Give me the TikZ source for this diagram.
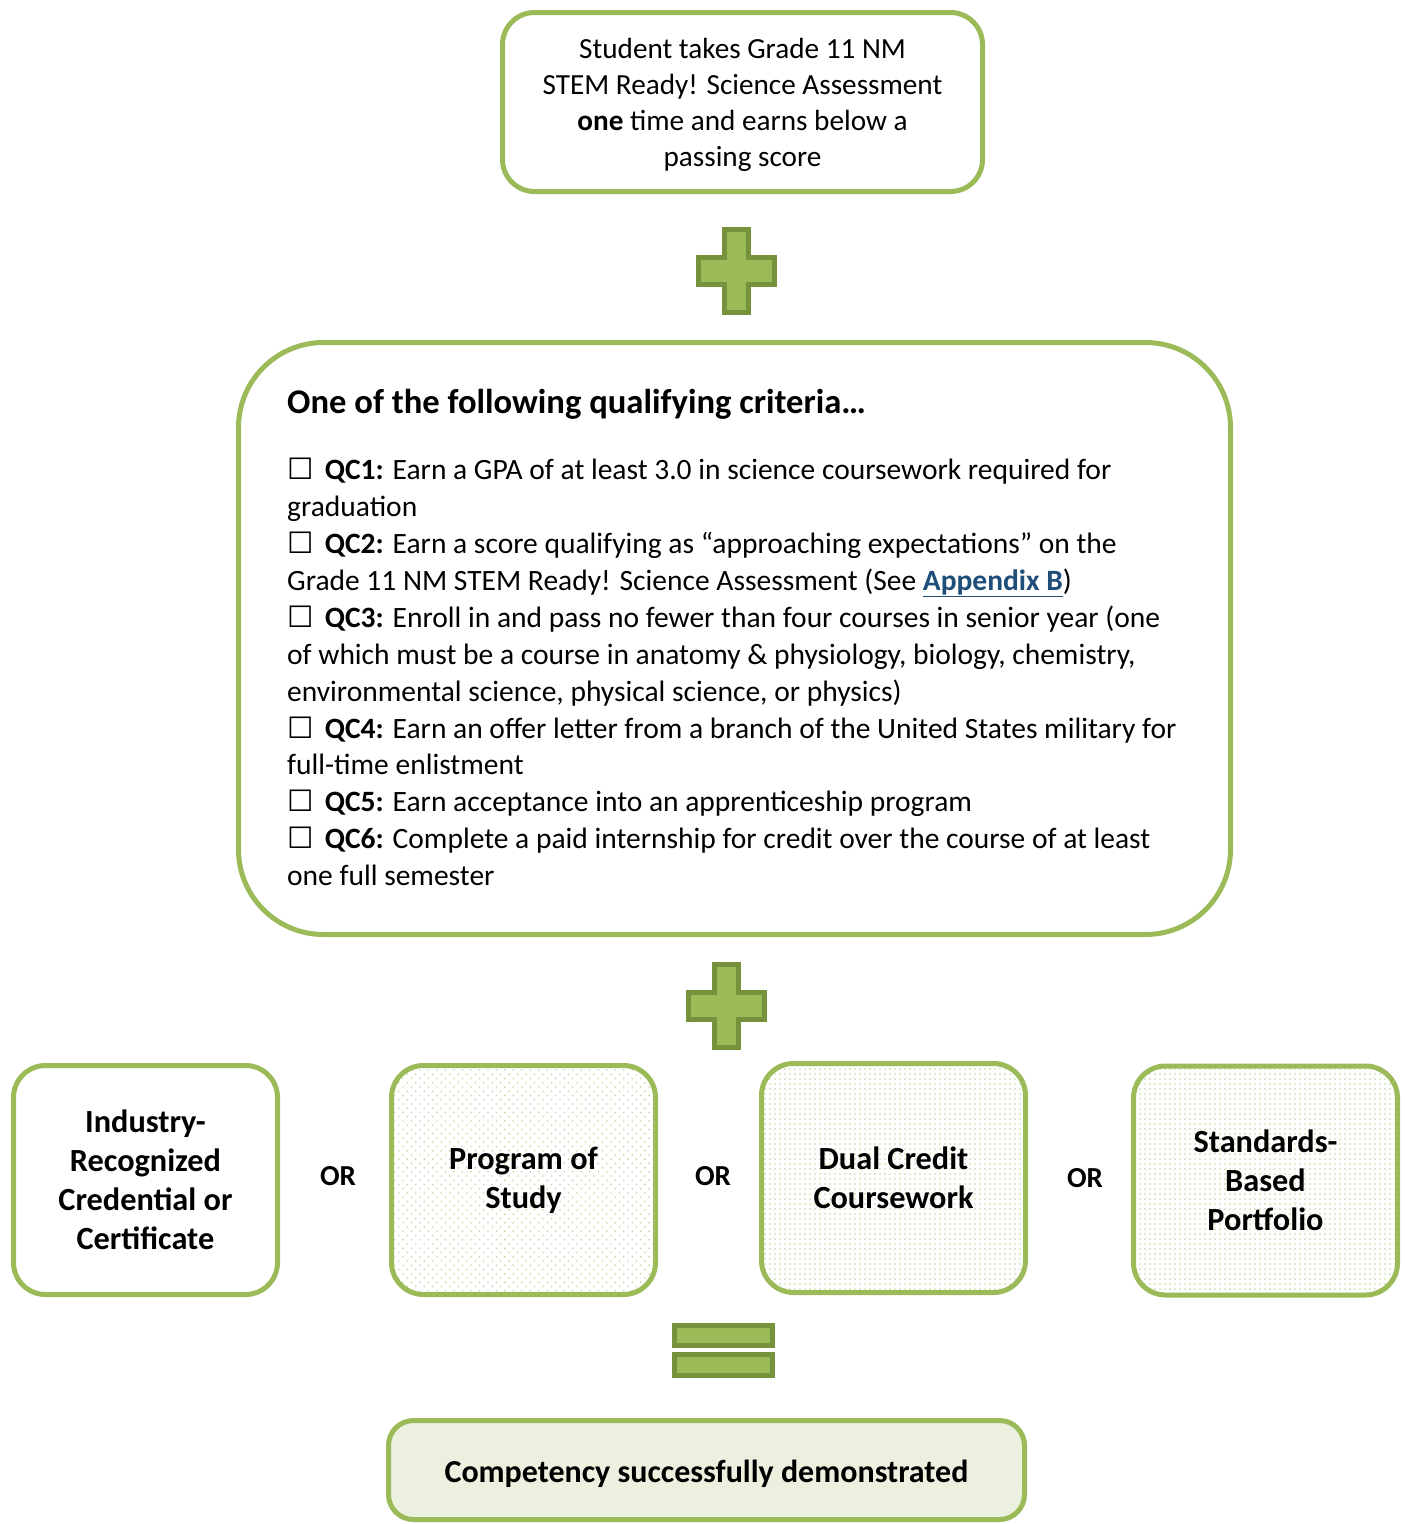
\documentclass[tikz,border=0pt]{standalone}
\usepackage{fontspec}
\setmainfont{Carlito}
\newfontfamily\symfont{DejaVu Sans}
\usetikzlibrary{patterns,patterns.meta}
\definecolor{gborder}{HTML}{9BBB59}
\definecolor{gdark}{HTML}{76923C}
\definecolor{gpale}{HTML}{EBF1DE}
\definecolor{gdot}{HTML}{BFD596}
\definecolor{linkblue}{HTML}{1F4E79}
\newcommand{\cbox}{{\symfont\char"2610}\hspace{0.38em}}
\tikzset{
  gbox/.style={draw=gborder, line width=5pt, rounded corners=32pt, inner sep=0pt, align=center},
  dotsA/.style={pattern={Dots[distance=6pt, angle=45, radius=0.9pt]}, pattern color=gdot},
  dotsB/.style={pattern={Dots[distance=5pt, radius=0.85pt]}, pattern color=gdot},
  greenplus/.pic={
    \path[fill=gborder, draw=gdark, line width=5pt]
      (-12,-41.5) -- (12,-41.5) -- (12,-13.5) -- (38,-13.5) -- (38,13.5) -- (12,13.5)
      -- (12,41.5) -- (-12,41.5) -- (-12,13.5) -- (-38,13.5) -- (-38,-13.5) -- (-12,-13.5) -- cycle;
  },
  ortext/.style={font=\fontsize{29}{34}\selectfont\bfseries},
  boldlbl/.style={font=\fontsize{32.3}{39}\selectfont\bfseries, align=center},
  bodytxt/.style={font=\fontsize{29.5}{36.9}\selectfont, align=left, inner sep=0pt},
}
\begin{document}
\begin{tikzpicture}[x=1pt,y=-1pt]
\fill[white] (0,0) rectangle (1405,1524);
\useasboundingbox (0,0) rectangle (1405,1524);

% top box
\node[gbox, minimum width=480pt, minimum height=179pt] (top) at (742.5,102) {};
\node[align=center, inner sep=0pt, font=\fontsize{29.2}{36}\selectfont] (toptext) at (742.5,105)
  {Student takes Grade 11 NM\\STEM Ready! Science Assessment\\\textbf{one} time and earns below a\\passing score};

\pic at (736,271) {greenplus};

% main box
\node[gbox, rounded corners=85pt, minimum width=992pt, minimum height=592pt] (main) at (734.5,638.5) {};
\node[anchor=west, inner sep=0pt, font=\fontsize{34.6}{40}\selectfont\bfseries] (title) at (287,404)
  {One of the following qualifying criteria…};
\node[bodytxt, anchor=north west] (items) at (287,458)
  {\cbox\textbf{QC1:} Earn a GPA of at least 3.0 in science coursework required for\\
   graduation\\
   \cbox\textbf{QC2:} Earn a score qualifying as “approaching expectations” on the\\
   Grade 11 NM STEM Ready! Science Assessment (See \textcolor{linkblue}{\underline{\textbf{Appendix B}}})\\
   \cbox\textbf{QC3:} Enroll in and pass no fewer than four courses in senior year (one\\
   of which must be a course in anatomy \& physiology, biology, chemistry,\\
   environmental science, physical science, or physics)\\
   \cbox\textbf{QC4:} Earn an offer letter from a branch of the United States military for\\
   full-time enlistment\\
   \cbox\textbf{QC5:} Earn acceptance into an apprenticeship program\\
   \cbox\textbf{QC6:} Complete a paid internship for credit over the course of at least\\
   one full semester};

\pic at (726,1005.5) {greenplus};

% option boxes
\node[gbox, boldlbl, minimum width=264pt, minimum height=229pt] (irc) at (145.5,1180)
  {Industry-\\Recognized\\Credential or\\Certificate};
\node[ortext] (or1) at (338,1176) {OR};
\node[gbox, boldlbl, dotsA, minimum width=264pt, minimum height=229pt] (pos) at (523.5,1180)
  {Program of\\Study};
\node[ortext] (or2) at (713,1176) {OR};
\node[gbox, boldlbl, dotsB, minimum width=264pt, minimum height=229pt] (dcc) at (893.5,1178)
  {Dual Credit\\Coursework};
\node[ortext] (or3) at (1085,1178) {OR};
\node[gbox, boldlbl, dotsB, minimum width=264pt, minimum height=229pt] (sbp) at (1265.5,1180.5)
  {Standards-\\Based\\Portfolio};

% equals sign
\path[fill=gborder, draw=gdark, line width=5pt] (674.5,1325.5) rectangle (772.5,1345.5);
\path[fill=gborder, draw=gdark, line width=5pt] (674.5,1354.5) rectangle (772.5,1375.5);

% result box
\node[gbox, fill=gpale, rounded corners=25pt, minimum width=636pt, minimum height=99pt] (res) at (706.5,1470) {};
\node[inner sep=0pt, font=\fontsize{32}{38}\selectfont\bfseries] (restext) at (706.5,1474)
  {Competency successfully demonstrated};
\end{tikzpicture}
\end{document}
